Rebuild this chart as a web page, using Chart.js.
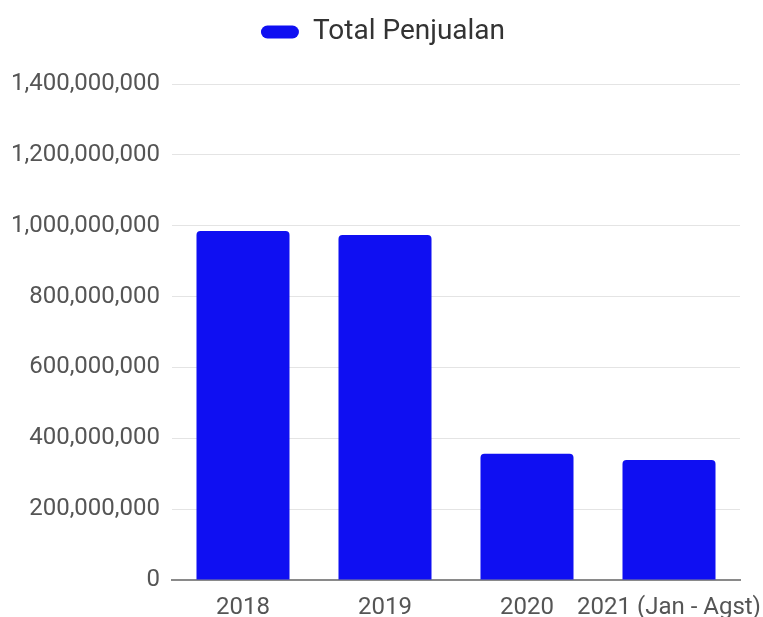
<!DOCTYPE html>
<html>
<head>
<meta charset="utf-8">
<script src="https://cdn.jsdelivr.net/npm/chart.js@4"></script>
<style>
  html, body { margin: 0; padding: 0; background: #fff; }
  #wrap { width: 763px; height: 617px; }
</style>
</head>
<body>
<div id="wrap"><canvas id="myChart"></canvas></div>
<script>
let years = ['2018', '2019', '2020', '2021 (Jan - Agst)']
let penjualan = [985000000, 974000000, 356000000, 339000000]
let yTicks = [0, 200000000, 400000000, 600000000, 800000000, 1000000000, 1200000000, 1400000000]

Chart.defaults.font.family = 'Roboto'
Chart.defaults.font.size = 24

// push the plot down below the legend, and nudge the legend a bit right
let legendTweak = {
    id: 'legendTweak',
    afterInit(chart) {
        const legend = chart.legend
        const fit = legend.fit
        const draw = legend.draw
        legend.fit = function () {
            fit.call(this)
            this.height += 28
        }
        legend.draw = function () {
            const c = this.ctx
            c.save()
            c.translate(13, 0)
            draw.call(this)
            c.restore()
        }
    }
}

var ctx = document.getElementById('myChart').getContext('2d')
var chart = new Chart(ctx, {
    type: 'bar',
    data: {
        labels: years,
        datasets: [{
            label: 'Total Penjualan',
            backgroundColor: '#0f0ff2',
            borderRadius: 4,
            borderSkipped: 'bottom',
            barPercentage: 0.655,
            categoryPercentage: 1,
            data: penjualan
        }]
    },
    options: {
        responsive: true,
        maintainAspectRatio: false,
        animation: false,
        layout: { padding: { top: 8, right: 23, left: 0, bottom: 0 } },
        plugins: {
            legend: {
                labels: {
                    color: '#333',
                    font: { size: 28 },
                    boxWidth: 38,
                    boxHeight: 13,
                    useBorderRadius: true,
                    borderRadius: 6.5,
                    padding: 10
                }
            },
            tooltip: { enabled: false }
        },
        scales: {
            x: {
                grid: { display: false },
                border: { color: '#8a8a8a', width: 2 },
                ticks: { color: '#555', maxRotation: 0, minRotation: 0, autoSkip: false, padding: 6 },
                afterFit: function (scale) {
                    scale.height = 37
                    scale.paddingRight = 0
                    scale.paddingLeft = 0
                }
            },
            y: {
                min: 0,
                max: 1400000000,
                border: { display: false },
                grid: { color: '#e4e4e4', drawTicks: false },
                afterBuildTicks: function (scale) {
                    scale.ticks = yTicks.map(v => ({ value: v }))
                },
                ticks: {
                    color: '#555',
                    padding: 12,
                    callback: v => v.toLocaleString('en-US')
                },
                afterFit: function (scale) { scale.width = 172 }
            }
        }
    },
    plugins: [legendTweak]
})
</script>
</body>
</html>
